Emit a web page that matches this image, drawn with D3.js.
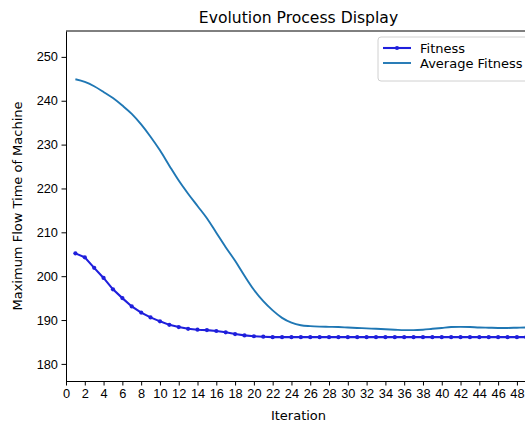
<html>
<head>
	<script src="https://d3js.org/d3.v7.min.js"></script>
	<title>Evolution Process Display</title>
	<style type="text/css">
		body {
			margin: 0;
			background: #fff;
		}
		svg {
			display: block;
			font-family: "DejaVu Sans", sans-serif;
		}
		.tick text {
			font-size: 12.8px;
			fill: #000;
		}
		.tick line, .domain {
			stroke: #000;
			stroke-width: 1;
		}
	</style>
</head>
<body>

<div id="chart"></div>

<script>

// iterations 1..50
var iterations = d3.range(1, 51);

var fitness = [205.2, 204.3, 201.9, 199.6, 197.0, 195.0, 193.1, 191.7, 190.6, 189.7,
	188.9, 188.4, 188.0, 187.8, 187.7, 187.5, 187.2, 186.8, 186.5, 186.3,
	186.2, 186.1, 186.1, 186.1, 186.1, 186.1, 186.1, 186.1, 186.1, 186.1,
	186.1, 186.1, 186.1, 186.1, 186.1, 186.1, 186.1, 186.1, 186.1, 186.1,
	186.1, 186.1, 186.1, 186.1, 186.1, 186.1, 186.1, 186.1, 186.1, 186.1];

var avgFitness = [244.9, 244.3, 243.3, 242.0, 240.6, 238.9, 237.0, 234.6, 231.8, 228.7,
	225.2, 221.8, 218.8, 216.0, 213.2, 209.9, 206.6, 203.5, 200.1, 196.9,
	194.3, 192.2, 190.5, 189.4, 188.8, 188.6, 188.5, 188.45, 188.4, 188.3,
	188.2, 188.1, 188.0, 187.9, 187.8, 187.7, 187.7, 187.8, 188.0, 188.2,
	188.4, 188.45, 188.4, 188.3, 188.25, 188.2, 188.2, 188.25, 188.3, 188.3];

var xTicks = d3.range(0, 50, 2);
var yTicks = [180, 190, 200, 210, 220, 230, 240, 250];

var seriesNames = ["Fitness", "Average Fitness"];
var seriesColors = ["#1f1fdc", "#1f77b4"];

function drawChart() {
	var W = 525, H = 423;
	var left = 66, top = 31, right = 531, bottom = 381;

	var svg = d3.select("#chart")
		.append("svg")
		.attr("width", W)
		.attr("height", H);

	var x = d3.scaleLinear().domain([0, 49.5]).range([left, right]);
	var y = d3.scaleLinear().domain([176.1, 255.9]).range([bottom, top]);

	svg.append("clipPath").attr("id", "plotclip")
		.append("rect")
		.attr("x", left).attr("y", top)
		.attr("width", right - left).attr("height", bottom - top);

	var plot = svg.append("g").attr("clip-path", "url(#plotclip)");

	var line = function(vals, curve) {
		return d3.line()
			.curve(curve)
			.x(function(d, i) { return x(iterations[i]); })
			.y(function(d) { return y(d); })(vals);
	};

	// average fitness (smooth curve)
	plot.append("path")
		.attr("d", line(avgFitness, d3.curveMonotoneX))
		.attr("fill", "none")
		.attr("stroke", seriesColors[1])
		.attr("stroke-width", 1.9);

	// best fitness with dot markers
	plot.append("path")
		.attr("d", line(fitness, d3.curveLinear))
		.attr("fill", "none")
		.attr("stroke", seriesColors[0])
		.attr("stroke-width", 2.1);

	plot.selectAll("circle.fit")
		.data(fitness)
		.enter().append("circle")
		.attr("class", "fit")
		.attr("cx", function(d, i) { return x(iterations[i]); })
		.attr("cy", function(d) { return y(d); })
		.attr("r", 2.1)
		.attr("fill", seriesColors[0]);

	// axes
	var xAxis = d3.axisBottom(x).tickValues(xTicks).tickSizeInner(4.5).tickSizeOuter(0).tickPadding(3.5);
	var yAxis = d3.axisLeft(y).tickValues(yTicks).tickSizeInner(4.5).tickSizeOuter(0).tickPadding(3.5);

	svg.append("g")
		.attr("transform", "translate(0," + bottom + ")")
		.call(xAxis);

	svg.append("g")
		.attr("transform", "translate(" + left + ",0)")
		.call(yAxis);

	// top and right spines
	svg.append("line").attr("x1", left).attr("x2", right).attr("y1", top).attr("y2", top)
		.attr("stroke", "#000").attr("stroke-width", 1);
	svg.append("line").attr("x1", right).attr("x2", right).attr("y1", top).attr("y2", bottom)
		.attr("stroke", "#000").attr("stroke-width", 1);

	// title and labels
	svg.append("text")
		.attr("x", (left + right) / 2)
		.attr("y", top - 8)
		.attr("text-anchor", "middle")
		.attr("font-size", 15.6)
		.text("Evolution Process Display");

	svg.append("text")
		.attr("x", (left + right) / 2)
		.attr("y", 420)
		.attr("text-anchor", "middle")
		.attr("font-size", 13)
		.text("Iteration");

	svg.append("text")
		.attr("transform", "translate(22," + ((top + bottom) / 2) + ") rotate(-90)")
		.attr("text-anchor", "middle")
		.attr("font-size", 13)
		.text("Maximum Flow Time of Machine");

	// legend
	var lg = svg.append("g").attr("transform", "translate(378,37)");
	lg.append("rect")
		.attr("x", 0).attr("y", 0)
		.attr("width", 152).attr("height", 44)
		.attr("rx", 3)
		.attr("fill", "#fff").attr("fill-opacity", 0.8)
		.attr("stroke", "#d0d0d0").attr("stroke-width", 1);

	seriesNames.forEach(function(name, i) {
		var yy = 11 + i * 15;
		lg.append("line")
			.attr("x1", 5).attr("x2", 33)
			.attr("y1", yy).attr("y2", yy)
			.attr("stroke", seriesColors[i])
			.attr("stroke-width", i == 0 ? 2.1 : 1.9);
		if (i == 0) {
			lg.append("circle").attr("cx", 19).attr("cy", yy).attr("r", 2.1).attr("fill", seriesColors[i]);
		}
		lg.append("text")
			.attr("x", 42).attr("y", yy + 4.7)
			.attr("font-size", 13)
			.text(name);
	});
}

drawChart();

</script>
</body>
</html>
